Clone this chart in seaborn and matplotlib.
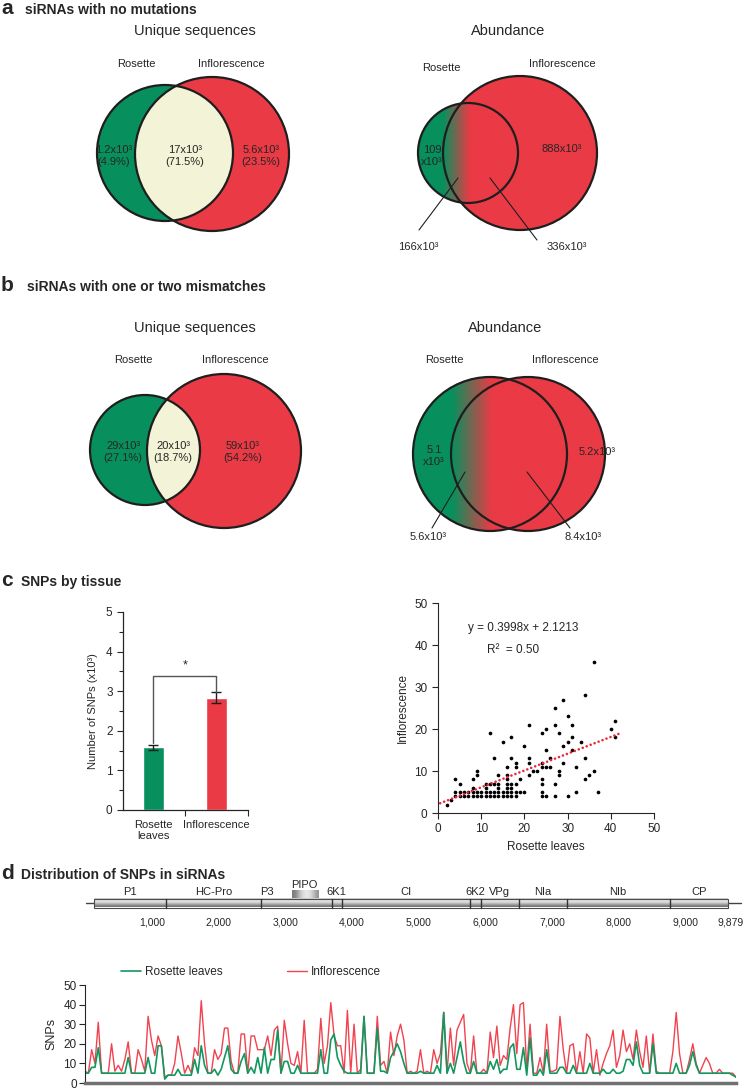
import numpy as np
import seaborn as sns
import matplotlib.pyplot as plt
from matplotlib.patches import Circle, Rectangle
from matplotlib.colors import LinearSegmentedColormap
from matplotlib.lines import Line2D

sns.set_style("ticks")
plt.rcParams['font.family'] = ['Liberation Sans', 'DejaVu Sans']

GREEN = "#07905d"
RED = "#ea3a45"
CREAM = "#f3f3d7"
EDGE = "#1e1e1e"
LINE_GREEN = "#12985f"
LINE_RED = "#f0434f"

# ---- data ----
# panel a / b : venn labels
a_unique = ["1.2x10³\n(4.9%)", "17x10³\n(71.5%)", "5.6x10³\n(23.5%)"]
a_abund = ["109\nx10³", "888x10³", "166x10³", "336x10³"]
b_unique = ["29x10³\n(27.1%)", "20x10³\n(18.7%)", "59x10³\n(54.2%)"]
b_abund = ["5.1\nx10³", "5.2x10³", "5.6x10³", "8.4x10³"]

# panel c : bars
tissues = ["Rosette\nleaves", "Inflorescence"]
snp_counts = [1.58, 2.83]
snp_err = [0.07, 0.14]

# panel c : scatter
rosette_leaves = [2, 3, 4, 4, 4, 5, 5, 5, 6, 6, 7, 7, 8, 8, 8, 8, 9, 9, 9, 9, 10, 10,
                  11, 11, 11, 11, 12, 12, 12, 12, 13, 13, 13, 13, 14, 14, 14, 14, 14,
                  15, 15, 15, 16, 16, 16, 16, 16, 16, 16, 17, 17, 17, 17, 17, 17,
                  18, 18, 18, 18, 18, 19, 19, 20, 20, 21, 21, 21, 21, 22, 23,
                  24, 24, 24, 24, 24, 24, 24, 25, 25, 25, 25, 26, 26, 27, 27, 27, 27,
                  28, 28, 28, 29, 29, 29, 30, 30, 30, 31, 31, 31, 32, 32, 33,
                  34, 34, 34, 35, 36, 36, 37, 40, 41, 41]
inflorescence = [2, 3, 8, 5, 4, 7, 5, 4, 5, 4, 5, 4, 8, 6, 5, 4, 10, 9, 5, 4, 5, 4,
                 7, 6, 5, 4, 19, 7, 5, 4, 13, 7, 5, 4, 9, 7, 6, 5, 4,
                 17, 5, 4, 11, 9, 8, 7, 6, 5, 4, 18, 13, 7, 6, 5, 4,
                 12, 11, 7, 5, 4, 8, 5, 16, 5, 21, 13, 12, 9, 10, 10,
                 19, 12, 11, 8, 7, 5, 4, 20, 15, 11, 4, 13, 11, 25, 21, 7, 4,
                 19, 10, 9, 27, 16, 12, 23, 17, 4, 21, 18, 15, 11, 5, 17,
                 28, 13, 8, 9, 36, 10, 5, 20, 22, 18]
fit_slope = 0.3998
fit_intercept = 2.1213
fit_r2 = 0.50

# panel d : genome map
gene_names = ["P1", "HC-Pro", "P3", "6K1", "CI", "6K2", "VPg", "NIa", "NIb", "CP"]
gene_bounds = [133, 1220, 2633, 3700, 3847, 5767, 5933, 6500, 7220, 8767, 9633]
pipo = [3100, 3490]
genome_len = 9879
genome_ticks = [1000, 2000, 3000, 4000, 5000, 6000, 7000, 8000, 9000, 9879]

# panel d : SNPs along genome
rosette_snps = [5, 5, 8, 8, 18, 5, 5, 5, 5, 5, 5, 5, 5, 13, 5, 5, 5, 5, 5, 13,
                5, 5, 19, 19, 2, 4, 4, 4, 7, 4, 4, 4, 4, 12, 5, 19, 9, 5, 5, 7,
                4, 7, 13, 19, 7, 5, 5, 11, 15, 5, 8, 5, 13, 5, 18, 5, 12, 12, 27, 5,
                11, 11, 5, 5, 9, 5,
                5, 5, 5, 5, 5, 17, 5, 5, 22, 25, 13, 9, 6, 5, 5, 5, 5, 5, 34, 5,
                5, 5, 28, 6, 6, 5, 13, 16, 20, 16, 10, 5, 5, 5, 5, 6, 5, 5, 5, 5,
                9, 5, 36, 5, 10, 5, 13, 21, 11, 5, 5, 11, 5, 5, 5, 5, 11, 7, 12, 5,
                7, 7, 18, 20, 7, 7,
                18, 4, 23, 4, 4, 7, 4, 17, 5, 5, 5, 8, 8, 5, 5, 9, 5, 5, 5, 5,
                10, 5, 5, 5, 7, 5, 5, 7, 5, 5, 6, 12, 12, 9, 21, 9, 5, 5, 5, 20,
                5, 5, 5, 5, 5, 5, 10, 5, 5, 5, 9, 16, 9, 5, 5, 5, 5, 5, 5, 5,
                5, 5, 5, 4, 3]
inflo_snps = [6, 5, 17, 10, 31, 5, 5, 5, 20, 6, 9, 6, 12, 21, 5, 5, 17, 12, 6, 34,
              22, 14, 24, 19, 3, 4, 4, 10, 24, 15, 5, 9, 5, 18, 14, 42, 20, 5, 5, 17,
              12, 15, 28, 28, 11, 5, 5, 25, 25, 5, 24, 24, 17, 17, 17, 24, 14, 27, 29, 5,
              32, 20, 10, 9, 16, 5,
              32, 5, 5, 5, 7, 33, 10, 19, 41, 24, 19, 19, 5, 37, 5, 30, 5, 7, 34, 5,
              5, 5, 34, 9, 11, 5, 26, 14, 24, 30, 22, 5, 6, 5, 6, 17, 5, 6, 5, 17,
              10, 15, 36, 5, 28, 9, 27, 31, 35, 10, 5, 24, 5, 5, 7, 5, 26, 13, 29, 9,
              14, 12, 28, 40, 15, 40,
              41, 7, 30, 5, 5, 13, 5, 30, 6, 6, 7, 34, 17, 5, 19, 20, 5, 16, 5, 25,
              23, 5, 17, 4, 10, 15, 19, 27, 8, 14, 27, 16, 20, 12, 27, 16, 8, 24, 5, 25,
              6, 5, 5, 5, 5, 16, 36, 15, 5, 5, 12, 20, 10, 5, 9, 13, 10, 5, 5, 7,
              5, 5, 5, 5, 3]


def box(l, t, r, b):
    return [l / 750, 1 - b / 1091, (r - l) / 750, (b - t) / 1091]


fig = plt.figure(figsize=(7.5, 10.91), dpi=100)
ov = fig.add_axes([0, 0, 1, 1])
ov.axis('off')
fade_cmap = LinearSegmentedColormap.from_list("fade", [GREEN, RED])

# panel headers
for letter, title, y, tx in [("a", "siRNAs with no mutations", 14, 25),
                             ("b", "siRNAs with one or two mismatches", 291, 27),
                             ("c", "SNPs by tissue", 586, 21),
                             ("d", "Distribution of SNPs in siRNAs", 879, 21)]:
    ov.text(1, y, letter, fontsize=15, fontweight='bold', va='baseline')
    ov.text(tx, y, title, fontsize=10, fontweight='bold', va='baseline')


def outlines(c1, r1, c2, r2):
    for c, r in [(c1, r1), (c2, r2)]:
        ov.add_patch(Circle(c, r, fc='none', ec=EDGE, lw=1.6, zorder=4))


def unique_venn(c1, r1, c2, r2):
    ov.add_patch(Circle(c1, r1, fc=GREEN, ec='none', zorder=1))
    ov.add_patch(Circle(c2, r2, fc=RED, ec='none', zorder=1))
    mid = Circle(c1, r1, fc=CREAM, ec='none', zorder=2)
    ov.add_patch(mid)
    mid.set_clip_path(Circle(c2, r2, transform=ov.transData))
    outlines(c1, r1, c2, r2)


def abundance_venn(c1, r1, c2, r2, fade):
    ov.add_patch(Circle(c2, r2, fc=RED, ec='none', zorder=1))
    xs = np.linspace(c1[0] - r1, c1[0] + r1, 300)
    grad = np.clip((xs - fade[0]) / (fade[1] - fade[0]), 0, 1)[None, :]
    im = ov.imshow(grad, cmap=fade_cmap, vmin=0, vmax=1, aspect='auto',
                   extent=(c1[0] - r1, c1[0] + r1, c1[1] + r1, c1[1] - r1),
                   interpolation='bilinear', zorder=2)
    im.set_clip_path(Circle(c1, r1, transform=ov.transData))
    outlines(c1, r1, c2, r2)


# a - unique sequences
ov.text(195, 35, "Unique sequences", fontsize=10.5, ha='center', va='baseline')
ov.text(136, 67, "Rosette", fontsize=8, ha='center', va='baseline')
ov.text(231, 67, "Inflorescence", fontsize=8, ha='center', va='baseline')
unique_venn((165, 153), 68, (212, 154), 77)
for lab, pos in zip(a_unique, [(114, 156), (185, 156), (261, 156)]):
    ov.text(*pos, lab, fontsize=8, ha='center', va='center', zorder=5, linespacing=1.3)

# a - abundance
ov.text(508, 35, "Abundance", fontsize=10.5, ha='center', va='baseline')
ov.text(441, 71, "Rosette", fontsize=8, ha='center', va='baseline')
ov.text(562, 67, "Inflorescence", fontsize=8, ha='center', va='baseline')
abundance_venn((468, 153), 50, (520, 153), 77, (443, 470))
ov.text(432, 156, a_abund[0], fontsize=8, ha='center', va='center', zorder=5, linespacing=1.2)
ov.text(562, 149, a_abund[1], fontsize=8, ha='center', va='center', zorder=5)
ov.text(418, 247, a_abund[2], fontsize=8, ha='center', va='center', zorder=5)
ov.text(567, 247, a_abund[3], fontsize=8, ha='center', va='center', zorder=5)
ov.plot([419, 458], [230, 178], color=EDGE, lw=0.8, zorder=5)
ov.plot([537, 490], [240, 178], color=EDGE, lw=0.8, zorder=5)

# b - unique sequences
ov.text(195, 332, "Unique sequences", fontsize=10.5, ha='center', va='baseline')
ov.text(133, 363, "Rosette", fontsize=8, ha='center', va='baseline')
ov.text(235, 363, "Inflorescence", fontsize=8, ha='center', va='baseline')
unique_venn((145, 450), 55, (224, 451), 77)
for lab, pos in zip(b_unique, [(123, 452), (173, 452), (243, 452)]):
    ov.text(*pos, lab, fontsize=8, ha='center', va='center', zorder=5, linespacing=1.3)

# b - abundance
ov.text(505, 332, "Abundance", fontsize=10.5, ha='center', va='baseline')
ov.text(444, 363, "Rosette", fontsize=8, ha='center', va='baseline')
ov.text(565, 363, "Inflorescence", fontsize=8, ha='center', va='baseline')
abundance_venn((490, 454), 77, (528, 454), 77, (452, 492))
ov.text(434, 456, b_abund[0], fontsize=8, ha='center', va='center', zorder=5, linespacing=1.2)
ov.text(597, 452, b_abund[1], fontsize=8, ha='center', va='center', zorder=5)
ov.text(428, 537, b_abund[2], fontsize=8, ha='center', va='center', zorder=5)
ov.text(583, 537, b_abund[3], fontsize=8, ha='center', va='center', zorder=5)
ov.plot([465, 432], [472, 528], color=EDGE, lw=0.8, zorder=5)
ov.plot([527, 570], [472, 528], color=EDGE, lw=0.8, zorder=5)

ov.set_xlim(0, 750)
ov.set_ylim(1091, 0)

# c - bar chart
axb = fig.add_axes(box(123, 612, 248, 810))
sns.barplot(x=tissues, y=snp_counts, hue=tissues, palette=[GREEN, RED], width=0.34,
            saturation=1, errorbar=None, legend=False, ax=axb)
axb.errorbar([0, 1], snp_counts, yerr=snp_err, fmt='none', ecolor=EDGE,
             elinewidth=1, capsize=3.5, capthick=1)
top = 3.38
axb.plot([0, 0, 1, 1], [snp_counts[0] + snp_err[0] + 0.03, top, top,
                        snp_counts[1] + snp_err[1] + 0.02], color='#555555', lw=1)
axb.text(0.5, top + 0.12, "*", ha='center', va='bottom', fontsize=9)
axb.set_xlim(-0.48, 1.5)
axb.set_ylim(0, 5)
axb.set_yticks(range(6))
axb.set_yticks(np.arange(0.5, 5, 1), minor=True)
axb.set_xticks([0, 1])
axb.set_xticklabels(tissues)
axb.set_xticks([0.5, 1.5], minor=True)
axb.tick_params(axis='x', which='major', length=0, pad=7, labelsize=8)
axb.tick_params(axis='x', which='minor', length=4, width=0.8)
axb.tick_params(axis='y', which='major', length=4, width=0.8, labelsize=8.5)
axb.tick_params(axis='y', which='minor', length=3, width=0.8)
axb.set_ylabel("Number of SNPs (x10³)", fontsize=8, labelpad=6)
sns.despine(ax=axb)
for s in ['left', 'bottom']:
    axb.spines[s].set_linewidth(0.9)

# c - scatter
axs = fig.add_axes(box(438, 603, 654, 813))
sns.scatterplot(x=rosette_leaves, y=inflorescence, color='black', s=7,
                linewidth=0, ax=axs)
fx = np.array([0.5, 42.5])
axs.plot(fx, fit_slope * fx + fit_intercept, color='#e8283a', lw=1.9,
         ls=(0, (0.01, 1.6)), dash_capstyle='round')
axs.text(6.9, 44, f"y = {fit_slope}x + {fit_intercept}", fontsize=8.5, va='center')
axs.text(11.3, 38.8, f"R²  = {fit_r2:.2f}", fontsize=8.5, va='center')
axs.set_xlim(0, 50)
axs.set_ylim(0, 50)
axs.set_xticks(range(0, 51, 10))
axs.set_yticks(range(0, 51, 10))
axs.tick_params(length=4, width=0.8, labelsize=8.5)
axs.set_xlabel("Rosette leaves", fontsize=8.5)
axs.set_ylabel("Inflorescence", fontsize=8.5)
sns.despine(ax=axs)

# d - genome map
axg = fig.add_axes(box(85, 878, 744, 913))
axg.set_xlim(0, genome_len)
axg.set_ylim(35, 0)
yc, hh = 25, 4.5
axg.plot([20, 9833], [yc, yc], color='#444444', lw=1, zorder=1)
shade = np.array([[0.3], [0.18], [0.22], [0.35], [0.5], [0.62]])
axg.imshow(shade, cmap='Greys', vmin=0, vmax=1, aspect='auto', interpolation='bicubic',
           extent=(gene_bounds[0], gene_bounds[-1], yc + hh, yc - hh), zorder=2)
axg.add_patch(Rectangle((gene_bounds[0], yc - hh), gene_bounds[-1] - gene_bounds[0], 2 * hh,
                        fc='none', ec='#4a4a4a', lw=0.8, zorder=3))
pipo_shade = np.array([[0.6, 0.42, 0.22, 0.15, 0.3, 0.5]])
axg.imshow(pipo_shade, cmap='Greys', vmin=0, vmax=1, aspect='auto', interpolation='bicubic',
           extent=(pipo[0], pipo[1], yc - hh, yc - hh - 8), zorder=2)
axg.text(sum(pipo) / 2, yc - hh - 8.5, "PIPO", fontsize=8, ha='center', va='bottom')
for b in gene_bounds[1:-1]:
    axg.plot([b, b], [yc - hh, yc + hh], color='#333333', lw=1, zorder=3)
for i, name in enumerate(gene_names):
    xm = (gene_bounds[i] + gene_bounds[i + 1]) / 2
    if name == "P3":
        xm = gene_bounds[i] + 100
    axg.text(xm, yc - hh - 1.5, name, fontsize=8, ha='center', va='bottom')
axg.set_xticks(genome_ticks)
axg.set_xticklabels([f"{t:,}" for t in genome_ticks])
axg.get_xticklabels()[-1].set_horizontalalignment('right')
axg.set_yticks([])
axg.tick_params(axis='x', length=0, labelsize=7.5, pad=3)
for s in axg.spines.values():
    s.set_visible(False)
axg.patch.set_alpha(0)

# d - SNP profile
axl = fig.add_axes(box(85, 985, 736, 1083))
pos = np.arange(len(rosette_snps))
sns.lineplot(x=pos, y=inflo_snps, color=LINE_RED, lw=1.0, ax=axl)
sns.lineplot(x=pos, y=rosette_snps, color=LINE_GREEN, lw=1.2, ax=axl)
axl.set_xlim(0, len(pos) - 1)
axl.set_ylim(0, 50)
axl.set_yticks(range(0, 51, 10))
axl.set_xticks([])
axl.tick_params(axis='y', length=4, width=0.8, labelsize=8.5, pad=2)
axl.set_ylabel("SNPs", fontsize=9)
sns.despine(ax=axl)
axl.spines['bottom'].set_color('#707070')
axl.spines['bottom'].set_linewidth(2.5)
handles = [Line2D([], [], color=LINE_GREEN, lw=1.2), Line2D([], [], color=LINE_RED, lw=1.0)]
axl.legend(handles, ["Rosette leaves", "Inflorescence"], loc='center left',
           bbox_to_anchor=(121 / 750, 1 - 972 / 1091), bbox_transform=fig.transFigure,
           ncol=2, frameon=False, fontsize=8.5, handlelength=1.7, handletextpad=0.3,
           columnspacing=5.5, borderpad=0, borderaxespad=0)

fig.savefig("out.png", dpi=100)
